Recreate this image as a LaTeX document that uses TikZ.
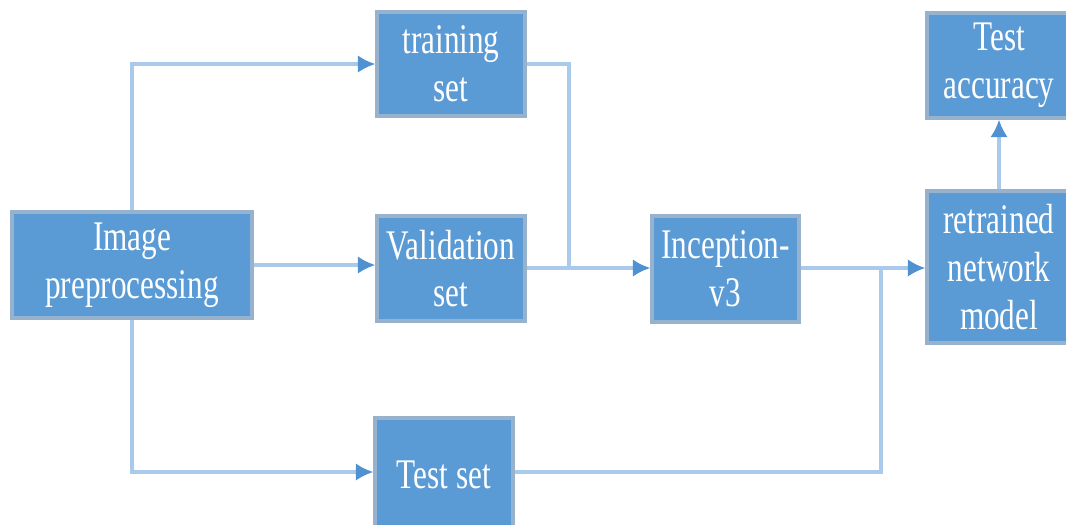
\documentclass[tikz,border=0pt]{standalone}
\usepackage{fontspec}
\setmainfont{Liberation Serif}
\usepackage{graphicx}
\usetikzlibrary{arrows.meta}
\definecolor{boxblue}{RGB}{91,155,213}
\definecolor{boxedge}{RGB}{150,178,205}
\definecolor{lineblue}{RGB}{170,202,235}
\definecolor{tipblue}{RGB}{80,145,210}
\newcommand{\sq}[1]{\scalebox{0.74}[1]{#1}}
\tikzset{
  blk/.style={draw=boxedge,line width=0.9pt,fill=boxblue,text=white,align=center,
    inner sep=0pt,font=\fontsize{12}{13.6}\selectfont},
  conn/.style={draw=lineblue,line width=0.9pt}
}

\begin{document}
\begin{tikzpicture}[>={Latex[length=5pt,width=5pt,color=tipblue]}]
			\useasboundingbox (0,0) rectangle (10.66,-5.24);
			% boxes
			\node[blk,minimum width=2.40cm,minimum height=1.06cm] (prep) at (1.32,-2.65) {\sq{Image}\\\sq{preprocessing}};
			\node[blk,minimum width=1.48cm,minimum height=1.04cm] (train) at (4.51,-0.64) {\sq{training}\\\sq{set}};
			\node[blk,minimum width=1.48cm,minimum height=1.05cm] (valid) at (4.51,-2.685) {\sq{Validation}\\\sq{set}};
			\node[blk,minimum width=1.38cm,minimum height=1.14cm] (testset) at (4.44,-4.75) {\sq{Test set}};
			\node[blk,minimum width=1.47cm,minimum height=1.06cm] (incep) at (7.255,-2.69) {\sq{Inception-}\\\sq{v3}};
			\node[blk,minimum width=1.44cm,minimum height=1.52cm] (retrain) at (9.99,-2.67) {\sq{retrained}\\\sq{network}\\\sq{model}};
			\node[blk,minimum width=1.44cm,minimum height=1.05cm] (acc) at (9.99,-0.655) {\sq{Test}\\\sq{accuracy}};
			% junctions
			\coordinate (j1) at (5.69,-2.68);
			\coordinate (j2) at (8.81,-2.68);
			% connectors
			\draw[conn,->] (prep.north) |- (train.west);
			\draw[conn,->] (prep.east) -- (prep.east -| valid.west);
			\draw[conn,->] (prep.south) |- (testset.west |- 0,-4.72);
			\draw[conn] (train.east) -| (j1);
			\draw[conn,->] (valid.east |- j1) -- (incep.west |- j1);
			\draw[conn] (testset.east |- 0,-4.72) -| (j2);
			\draw[conn,->] (incep.east |- j2) -- (retrain.west |- j2);
			\draw[conn,->] (retrain.north) -- (acc.south);
		\end{tikzpicture}
\end{document}
